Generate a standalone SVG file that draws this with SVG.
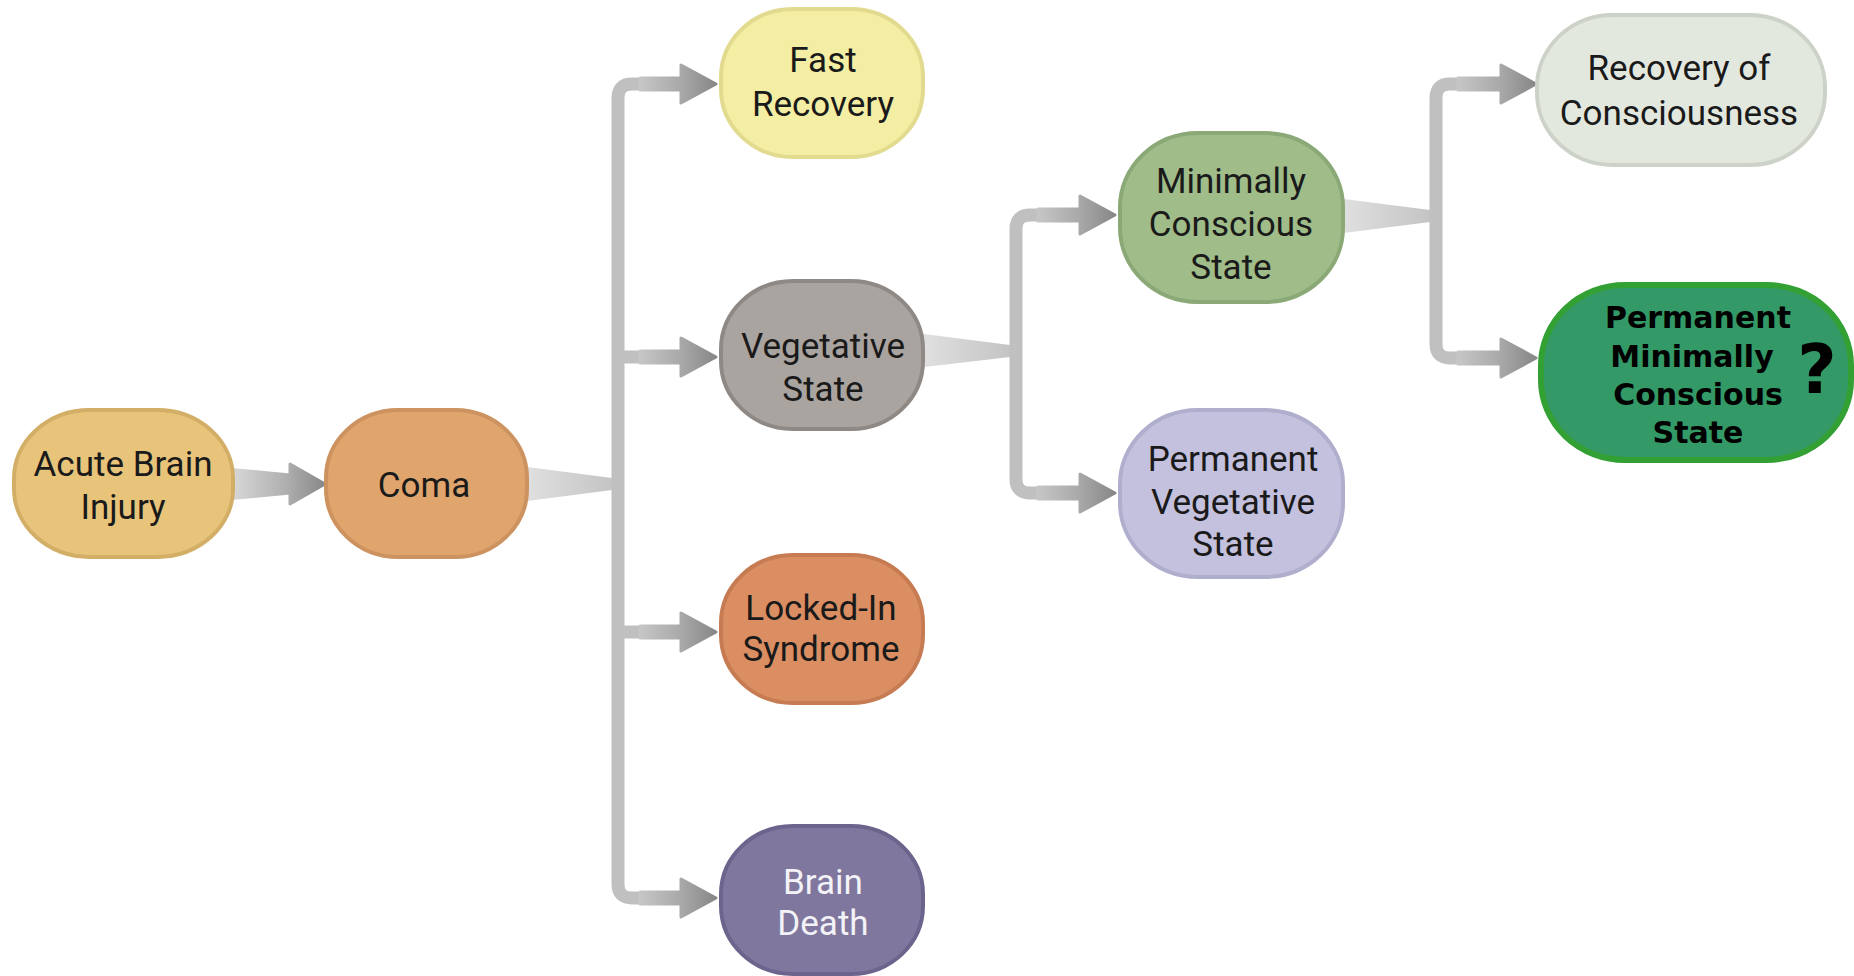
<svg xmlns="http://www.w3.org/2000/svg" width="1854" height="976" viewBox="0 0 1854 976">
<defs>
<linearGradient id="arrowGrad" x1="0" y1="0" x2="1" y2="0">
<stop offset="0" stop-color="#c6c6c6"/>
<stop offset="0.55" stop-color="#a8a8a8"/>
<stop offset="1" stop-color="#878787"/>
</linearGradient>
<linearGradient id="firstGrad" x1="0" y1="0" x2="1" y2="0">
<stop offset="0" stop-color="#dcdcdc"/>
<stop offset="0.6" stop-color="#b0b0b0"/>
<stop offset="1" stop-color="#878787"/>
</linearGradient>
<linearGradient id="wedgeGrad" x1="0" y1="0" x2="1" y2="0">
<stop offset="0" stop-color="#e2e2e2"/>
<stop offset="1" stop-color="#c4c4c4"/>
</linearGradient>
</defs>
<style>
.trunk{fill:none;stroke:#c0c0c0;stroke-width:13;stroke-linecap:butt;stroke-linejoin:round}
.arrow{fill:url(#arrowGrad);stroke:url(#arrowGrad);stroke-width:3;stroke-linejoin:round}
.wedge{fill:url(#wedgeGrad)}
.node rect{stroke-width:4}
.lbl{font-family:Roboto,"Liberation Sans",sans-serif;font-size:35px;fill:#1a1a1a;text-anchor:middle}
.bold{font-family:"DejaVu Sans",Verdana,sans-serif;font-weight:bold;font-size:30px;fill:#000;text-anchor:middle}
</style>
<rect width="1854" height="976" fill="#ffffff"/>

<g id="connectors">
<path class="arrow" style="fill:url(#firstGrad);stroke:url(#firstGrad)" d="M226,469 L290,475 L290,464 L325,484 L290,504 L290,493 L226,499 Z"/>
<path class="wedge" d="M520,466 L612,478 L612,490 L520,502 Z"/>
<path class="trunk" d="M650,84 L632,84 Q618,84 618,98 L618,884 Q618,898 632,898 L650,898"/>
<path class="trunk" d="M618,357 L650,357 M618,632 L650,632"/>
<path class="arrow" d="M640,78 L681,78 L681,65 L716,84 L681,103 L681,90 L640,90 Z"/>
<path class="arrow" d="M640,351 L681,351 L681,338 L716,357 L681,376 L681,363 L640,363 Z"/>
<path class="arrow" d="M640,626 L681,626 L681,613 L716,632 L681,651 L681,638 L640,638 Z"/>
<path class="arrow" d="M640,892 L681,892 L681,879 L716,898 L681,917 L681,904 L640,904 Z"/>

<path class="wedge" d="M916,333 L1010,345 L1010,357 L916,368 Z"/>
<path class="trunk" d="M1048,215 L1030,215 Q1016,215 1016,229 L1016,479 Q1016,493 1030,493 L1048,493"/>
<path class="arrow" d="M1038,209 L1080,209 L1080,196 L1115,215 L1080,234 L1080,221 L1038,221 Z"/>
<path class="arrow" d="M1038,487 L1080,487 L1080,474 L1115,493 L1080,512 L1080,499 L1038,499 Z"/>

<path class="wedge" d="M1336,198 L1430,210 L1430,222 L1336,234 Z"/>
<path class="trunk" d="M1468,84 L1450,84 Q1436,84 1436,98 L1436,344 Q1436,358 1450,358 L1468,358"/>
<path class="arrow" d="M1458,78 L1501,78 L1501,65 L1536,84 L1501,103 L1501,90 L1458,90 Z"/>
<path class="arrow" d="M1458,352 L1501,352 L1501,339 L1536,358 L1501,377 L1501,364 L1458,364 Z"/>
</g>

<g id="acute" class="node">
<rect x="14" y="410" width="219" height="147" rx="76" ry="68" fill="#e8c47b" stroke="#d2ae66"/>
<text class="lbl" x="123" y="476">Acute Brain</text>
<text class="lbl" x="123" y="519">Injury</text>
</g>
<g id="coma" class="node">
<rect x="326" y="410" width="201" height="147" rx="72" ry="68" fill="#e0a46d" stroke="#cc9360"/>
<text class="lbl" x="424" y="497">Coma</text>
</g>
<g id="fast" class="node">
<rect x="721" y="9" width="202" height="148" rx="72" ry="68" fill="#f4eea4" stroke="#e2da8e"/>
<text class="lbl" x="823" y="72">Fast</text>
<text class="lbl" x="823" y="116">Recovery</text>
</g>
<g id="vegetative" class="node">
<rect x="721" y="281" width="202" height="148" rx="72" ry="68" fill="#aaa4a0" stroke="#8f8985"/>
<text class="lbl" x="823" y="358">Vegetative</text>
<text class="lbl" x="823" y="401">State</text>
</g>
<g id="locked" class="node">
<rect x="721" y="555" width="202" height="148" rx="72" ry="68" fill="#da8e62" stroke="#c67b52"/>
<text class="lbl" x="821" y="620">Locked-In</text>
<text class="lbl" x="821" y="661">Syndrome</text>
</g>
<g id="brain" class="node">
<rect x="721" y="826" width="202" height="148" rx="72" ry="68" fill="#7f779d" stroke="#6c648c"/>
<text class="lbl" x="823" y="894" style="fill:#f2f2f7">Brain</text>
<text class="lbl" x="823" y="935" style="fill:#f2f2f7">Death</text>
</g>
<g id="mcs" class="node">
<rect x="1120" y="133" width="223" height="169" rx="78" ry="74" fill="#9fbc89" stroke="#8aa977"/>
<text class="lbl" x="1231" y="193">Minimally</text>
<text class="lbl" x="1231" y="236">Conscious</text>
<text class="lbl" x="1231" y="279">State</text>
</g>
<g id="pvs" class="node">
<rect x="1120" y="410" width="223" height="167" rx="78" ry="74" fill="#c3c1de" stroke="#b0aecd"/>
<text class="lbl" x="1233" y="471">Permanent</text>
<text class="lbl" x="1233" y="514">Vegetative</text>
<text class="lbl" x="1233" y="556">State</text>
</g>
<g id="recovery" class="node">
<rect x="1537" y="15" width="288" height="150" rx="76" ry="72" fill="#e3e8df" stroke="#cdd2c9"/>
<text class="lbl" x="1679" y="80">Recovery of</text>
<text class="lbl" x="1679" y="125">Consciousness</text>
</g>
<g id="pmcs" class="node">
<rect x="1541" y="285" width="310" height="175" rx="84" ry="80" fill="#339966" stroke="#33a033" style="stroke-width:6"/>
<text class="bold" x="1698" y="328">Permanent</text>
<text class="bold" x="1692" y="367">Minimally</text>
<text class="bold" x="1698" y="405">Conscious</text>
<text class="bold" x="1698" y="443">State</text>
<text class="bold" x="1817" y="393" style="font-size:68px">?</text>
</g>
</svg>
